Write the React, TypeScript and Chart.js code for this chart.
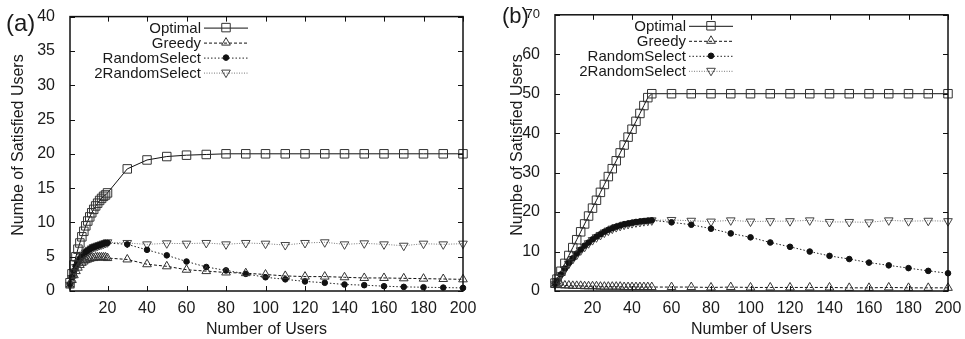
import React, { useEffect, useRef } from 'react';
import { Chart, registerables } from 'chart.js';
Chart.register(...registerables);

const FONT = "'Liberation Sans', Arial, Helvetica, sans-serif";
const TEXT = '#1a1a1a';

// ---------- data ----------
const xTickValues = [20, 40, 60, 80, 100, 120, 140, 160, 180, 200];

const seriesLabels = ['Optimal', 'Greedy', 'RandomSelect', '2RandomSelect'];

// Panel (a)
const usersA = [
  1, 2, 3, 4, 5, 6, 7, 8, 9, 10, 11, 12, 13, 14, 15, 16, 17, 18, 19, 20,
  30, 40, 50, 60, 70, 80, 90, 100, 110, 120, 130, 140, 150, 160, 170, 180, 190, 200,
];
const optimalA = [
  1.2, 2.5, 3.8, 5.0, 6.1, 7.0, 7.9, 8.7, 9.5, 10.2, 10.8, 11.4, 11.9, 12.4, 12.8, 13.2, 13.5, 13.8, 14.0, 14.3,
  17.8, 19.1, 19.6, 19.8, 19.9, 20, 20, 20, 20, 20, 20, 20, 20, 20, 20, 20, 20, 20,
];
const greedyA = [
  0.8, 1.6, 2.3, 2.9, 3.4, 3.8, 4.1, 4.3, 4.5, 4.6, 4.7, 4.8, 4.8, 4.9, 4.9, 4.9, 4.9, 4.9, 4.9, 4.8,
  4.6, 3.9, 3.6, 3.1, 2.9, 2.7, 2.6, 2.4, 2.2, 2.1, 2.1, 2.0, 1.9, 1.9, 1.85, 1.8, 1.75, 1.7,
];
const randomA = [
  1.0, 2.0, 2.9, 3.6, 4.2, 4.7, 5.1, 5.4, 5.7, 5.9, 6.1, 6.3, 6.4, 6.5, 6.6, 6.7, 6.8, 6.9, 7.0, 7.0,
  6.8, 6.0, 5.2, 4.3, 3.5, 3.0, 2.5, 2.0, 1.7, 1.4, 1.2, 0.95, 0.85, 0.7, 0.6, 0.55, 0.5, 0.45,
];
const twoRandomA = [
  0.9, 1.9, 2.8, 3.5, 4.1, 4.6, 5.0, 5.3, 5.6, 5.8, 6.0, 6.2, 6.4, 6.5, 6.6, 6.7, 6.8, 6.9, 7.0, 7.1,
  7.0, 6.8, 6.95, 6.9, 7.0, 6.8, 7.0, 6.9, 6.7, 7.0, 7.1, 6.8, 6.95, 6.8, 6.6, 6.9, 6.8, 6.9,
];

// Panel (b)
const usersB = [
  1, 2, 4, 6, 8, 10, 12, 14, 16, 18, 20, 22, 24, 26, 28, 30, 32, 34, 36, 38, 40, 42, 44, 46, 48, 50,
  60, 70, 80, 90, 100, 110, 120, 130, 140, 150, 160, 170, 180, 190, 200,
];
const optimalB = [
  2, 3, 5, 7, 9, 11, 13, 15, 17, 19, 21, 23, 25, 27, 29, 31, 33, 35, 37, 39, 41, 43, 45, 47, 49, 50,
  50, 50, 50, 50, 50, 50, 50, 50, 50, 50, 50, 50, 50, 50, 50,
];
const greedyB = [
  1.6, 1.5, 1.5, 1.4, 1.4, 1.3, 1.3, 1.3, 1.2, 1.2, 1.2, 1.2, 1.1, 1.1, 1.1, 1.1, 1.1, 1.1, 1.0, 1.0, 1.0, 1.0, 1.0, 1.0, 1.0, 1.0,
  1.0, 1.0, 0.9, 1.0, 0.9, 0.9, 0.9, 0.9, 0.9, 0.8, 0.8, 0.9, 0.8, 0.8, 0.8,
];
const randomB = [
  1.8, 2.6, 4.2, 5.7, 7.1, 8.3, 9.5, 10.5, 11.5, 12.3, 13.1, 13.8, 14.4, 15.0, 15.5, 15.9, 16.3, 16.6, 16.9, 17.1, 17.3, 17.5, 17.6, 17.7, 17.8, 17.9,
  17.4, 16.8, 15.8, 14.6, 13.6, 12.3, 11.2, 10.0, 8.9, 8.1, 7.2, 6.5, 5.8, 5.1, 4.5,
];
const twoRandomB = [
  1.7, 2.5, 4.0, 5.5, 6.9, 8.1, 9.2, 10.3, 11.2, 12.1, 12.9, 13.6, 14.2, 14.8, 15.3, 15.8, 16.2, 16.5, 16.8, 17.0, 17.2, 17.4, 17.5, 17.7, 17.8, 17.9,
  18.0, 17.8, 17.6, 17.9, 17.6, 17.7, 17.7, 17.9, 17.5, 17.5, 17.4, 17.9, 17.7, 17.8, 17.7,
];

const yTitle = 'Numbe of Satisfied Users';
const xTitle = 'Number of Users';

// ---------- styles ----------
type Style = {
  line: string;
  dash: number[];
  point: 'rect' | 'triangle' | 'circle';
  radius: number;
  rotation: number;
  fill: string;
  stroke: string;
};
const STYLES: Style[] = [
  { line: '#111', dash: [], point: 'rect', radius: 6, rotation: 0, fill: 'rgba(255,255,255,0)', stroke: '#333' },
  { line: '#111', dash: [3, 2], point: 'triangle', radius: 5, rotation: 0, fill: 'rgba(255,255,255,0)', stroke: '#333' },
  { line: '#222', dash: [1.5, 2], point: 'circle', radius: 2.8, rotation: 0, fill: '#111', stroke: '#111' },
  { line: '#777', dash: [1, 1.5], point: 'triangle', radius: 5, rotation: 180, fill: 'rgba(255,255,255,0)', stroke: '#444' },
];

function drawMarker(ctx: CanvasRenderingContext2D, s: Style, x: number, y: number) {
  ctx.save();
  ctx.setLineDash([]);
  ctx.lineWidth = 1;
  ctx.strokeStyle = s.stroke;
  ctx.fillStyle = s.fill;
  ctx.beginPath();
  const r = s.radius;
  if (s.point === 'rect') {
    const h = r * Math.SQRT1_2;
    ctx.rect(x - h, y - h, 2 * h, 2 * h);
  } else if (s.point === 'circle') {
    ctx.arc(x, y, r, 0, Math.PI * 2);
  } else {
    let rad = (s.rotation * Math.PI) / 180;
    ctx.moveTo(x + Math.sin(rad) * r, y - Math.cos(rad) * r);
    rad += (2 * Math.PI) / 3;
    ctx.lineTo(x + Math.sin(rad) * r, y - Math.cos(rad) * r);
    rad += (2 * Math.PI) / 3;
    ctx.lineTo(x + Math.sin(rad) * r, y - Math.cos(rad) * r);
    ctx.closePath();
  }
  ctx.fill();
  ctx.stroke();
  ctx.restore();
}

type PanelProps = {
  left: number;
  width: number;
  xs: number[];
  values: number[][];
  yMax: number;
  yStep: number;
  axisWidth: number;
  padRight: number;
  panelLabel: string;
  panelX: number;
  panelY: number;
  panelFont: number;
  yTitleX: number;
  smallTopTick: boolean;
};

function Panel(p: PanelProps) {
  const ref = useRef<HTMLCanvasElement>(null);
  useEffect(() => {
    if (!ref.current) return;
    const decor = {
      id: 'decor',
      afterDatasetsDraw(chart: any) {
        const { ctx, chartArea: a, scales } = chart;
        ctx.save();
        // frame
        ctx.setLineDash([]);
        ctx.strokeStyle = '#111';
        ctx.lineWidth = 1.5;
        ctx.strokeRect(a.left, a.top, a.right - a.left, a.bottom - a.top);
        // inward ticks, mirrored
        ctx.lineWidth = 1;
        ctx.beginPath();
        scales.x.ticks.forEach((t: any) => {
          const px = Math.round(scales.x.getPixelForValue(t.value)) + 0.5;
          ctx.moveTo(px, a.bottom);
          ctx.lineTo(px, a.bottom - 5);
          ctx.moveTo(px, a.top);
          ctx.lineTo(px, a.top + 5);
        });
        scales.y.ticks.forEach((t: any) => {
          const py = Math.round(scales.y.getPixelForValue(t.value)) + 0.5;
          ctx.moveTo(a.left, py);
          ctx.lineTo(a.left + 5, py);
          ctx.moveTo(a.right, py);
          ctx.lineTo(a.right - 5, py);
        });
        ctx.stroke();

        // legend
        ctx.font = `15px ${FONT}`;
        ctx.textBaseline = 'middle';
        ctx.textAlign = 'right';
        seriesLabels.forEach((label, i) => {
          const s = STYLES[i];
          const y = a.top + 11 + i * 15;
          ctx.fillStyle = TEXT;
          ctx.fillText(label, a.left + 131, y + 1);
          ctx.save();
          ctx.strokeStyle = s.line;
          ctx.lineWidth = 1;
          ctx.setLineDash(s.dash);
          ctx.beginPath();
          ctx.moveTo(a.left + 134, y + 0.5);
          ctx.lineTo(a.left + 178, y + 0.5);
          ctx.stroke();
          ctx.restore();
          drawMarker(ctx, s, a.left + 156, y);
        });

        // y title
        ctx.save();
        ctx.translate(p.yTitleX, 145);
        ctx.rotate(-Math.PI / 2);
        ctx.textAlign = 'center';
        ctx.textBaseline = 'middle';
        ctx.font = `16px ${FONT}`;
        ctx.fillStyle = TEXT;
        ctx.fillText(yTitle, 0, 0);
        ctx.restore();

        // panel label
        ctx.font = `${p.panelFont}px ${FONT}`;
        ctx.textAlign = 'left';
        ctx.textBaseline = 'alphabetic';
        ctx.fillStyle = TEXT;
        ctx.fillText(p.panelLabel, p.panelX, p.panelY);
        ctx.restore();
      },
    };

    const datasets = p.values.map((vals, i) => {
      const s = STYLES[i];
      return {
        label: seriesLabels[i],
        data: p.xs.map((x, j) => ({ x, y: vals[j] })),
        borderColor: s.line,
        borderWidth: 1,
        borderDash: s.dash,
        pointStyle: s.point,
        pointRadius: s.radius,
        pointRotation: s.rotation,
        pointBackgroundColor: s.fill,
        pointBorderColor: s.stroke,
        pointBorderWidth: 1,
        fill: false,
        tension: 0,
        clip: false as any,
      };
    });

    const chart = new Chart(ref.current, {
      type: 'line',
      data: { datasets },
      plugins: [decor],
      options: {
        animation: false,
        responsive: false,
        devicePixelRatio: 1,
        layout: { padding: { left: 0, right: p.padRight, top: 13, bottom: 0 } },
        plugins: { legend: { display: false }, tooltip: { enabled: false } },
        scales: {
          x: {
            type: 'linear',
            min: 1,
            max: 200,
            grid: { display: false },
            border: { display: false },
            afterBuildTicks: (s: any) => {
              s.ticks = xTickValues.map((v) => ({ value: v }));
            },
            afterFit: (s: any) => {
              s.height = 48;
            },
            ticks: {
              font: { family: FONT, size: 16 },
              color: TEXT,
              padding: 0,
              maxRotation: 0,
              autoSkip: false,
            },
            title: {
              display: true,
              text: xTitle,
              font: { family: FONT, size: 16 },
              color: TEXT,
              padding: { top: 0, bottom: 0 },
            },
          },
          y: {
            type: 'linear',
            min: 0,
            max: p.yMax,
            grid: { display: false },
            border: { display: false },
            afterFit: (s: any) => {
              s.width = p.axisWidth;
            },
            ticks: {
              stepSize: p.yStep,
              font: (c: any) => ({
                family: FONT,
                size: p.smallTopTick && c.tick && c.tick.value === p.yMax ? 13 : 16,
              }),
              color: TEXT,
              padding: 7,
            },
          },
        },
      } as any,
    });
    return () => chart.destroy();
  }, []);
  return (
    <canvas
      ref={ref}
      width={p.width}
      height={339}
      style={{ position: 'absolute', left: p.left, top: 0, width: p.width, height: 339 }}
    />
  );
}

export default function App() {
  return (
    <div style={{ position: 'fixed', left: 0, top: 0, width: 965, height: 339, background: '#fff' }}>
      <Panel
        left={0}
        width={482}
        xs={usersA}
        values={[optimalA, greedyA, randomA, twoRandomA]}
        yMax={40}
        yStep={5}
        axisWidth={70}
        padRight={19}
        panelLabel="(a)"
        panelX={6}
        panelY={31}
        panelFont={24}
        yTitleX={19}
        smallTopTick={false}
      />
      <Panel
        left={482}
        width={483}
        xs={usersB}
        values={[optimalB, greedyB, randomB, twoRandomB]}
        yMax={70}
        yStep={10}
        axisWidth={73}
        padRight={17}
        panelLabel="(b)"
        panelX={20}
        panelY={23}
        panelFont={22}
        yTitleX={36}
        smallTopTick={true}
      />
    </div>
  );
}
